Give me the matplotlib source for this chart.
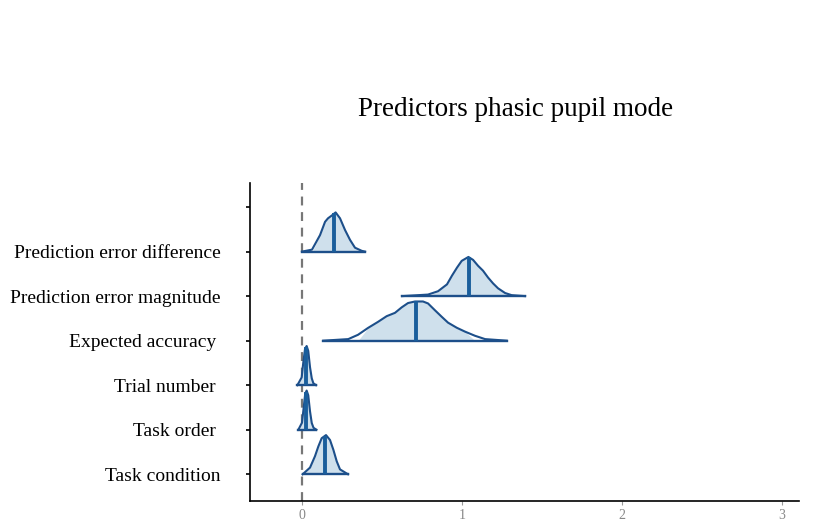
import numpy as np
import matplotlib.pyplot as plt
from matplotlib.ticker import FixedLocator

plt.rcParams['font.family'] = ['Liberation Serif', 'DejaVu Serif']

# predictors, bottom to top (top slot is empty in the original)
labels = ['Task condition', 'Task order ', 'Trial number ', 'Expected accuracy ',
          'Prediction error magnitude', 'Prediction error difference', '']

# posterior density outlines: x values and relative heights
tc_x = [0.004, 0.05, 0.081, 0.102, 0.123, 0.15, 0.175, 0.196, 0.217, 0.2375, 0.2875]
tc_h = [0.0, 0.17, 0.46, 0.71, 0.92, 1.0, 0.875, 0.625, 0.33, 0.125, 0.0]

to_x = [-0.023, 0.0, 0.01, 0.02, 0.029, 0.039, 0.05, 0.061, 0.072, 0.09]
to_h = [0.0, 0.18, 0.55, 0.92, 1.0, 0.88, 0.47, 0.17, 0.05, 0.0]

tn_x = [-0.029, -0.002, 0.008, 0.019, 0.029, 0.039, 0.05, 0.061, 0.071, 0.0875]
tn_h = [0.0, 0.2, 0.58, 0.93, 1.0, 0.875, 0.46, 0.175, 0.05, 0.0]

ea_x = [0.133, 0.289, 0.35, 0.4125, 0.475, 0.529, 0.581, 0.623, 0.6625, 0.706,
        0.756, 0.7875, 0.831, 0.873, 0.9125, 0.967, 1.019, 1.081, 1.144, 1.279]
ea_h = [0.0, 0.04, 0.15, 0.325, 0.48, 0.625, 0.71, 0.85, 0.96, 1.0,
        1.0, 0.95, 0.775, 0.61, 0.46, 0.33, 0.23, 0.125, 0.04, 0.0]

pem_x = [0.625, 0.7875, 0.85, 0.906, 0.9375, 0.969, 0.998, 1.04, 1.069, 1.1,
         1.131, 1.1625, 1.194, 1.225, 1.269, 1.31, 1.394]
pem_h = [0.0, 0.04, 0.125, 0.3, 0.525, 0.73, 0.9, 1.0, 0.925, 0.775,
         0.65, 0.475, 0.325, 0.2, 0.08, 0.025, 0.0]

ped_x = [0.0, 0.0625, 0.1125, 0.144, 0.1625, 0.1875, 0.21, 0.2375, 0.269, 0.30,
         0.331, 0.373, 0.394]
ped_h = [0.0, 0.05, 0.42, 0.76, 0.85, 0.925, 1.0, 0.85, 0.55, 0.30,
         0.10, 0.02, 0.0]

curves_x = [tc_x, to_x, tn_x, ea_x, pem_x, ped_x]
curves_h = [tc_h, to_h, tn_h, ea_h, pem_h, ped_h]
medians = [0.144, 0.025, 0.025, 0.71, 1.044, 0.202]
ci_lo = [0.0, 0.0, -0.01, 0.39, 0.82, 0.07]
ci_hi = [0.26, 0.065, 0.065, 1.02, 1.28, 0.35]

line_col = '#1d4f8a'
med_col = '#1a5e9c'
fill_col = '#cfe0ec'
scale = 0.88

fig = plt.figure(figsize=(8.17, 5.31), dpi=100)
ax = fig.add_axes([0.306, 0.0565, 0.672, 0.5985])

ax.axvline(0, color='#777777', lw=1.6, ls=(0, (4, 3)), zorder=1)

for i in range(len(curves_x)):
    xs = np.array(curves_x[i])
    hs = np.array(curves_h[i]) * scale + i
    inside = (xs >= ci_lo[i]) & (xs <= ci_hi[i])
    ax.fill_between(xs, i, hs, where=inside, interpolate=True,
                    color=fill_col, lw=0, zorder=2 + i * 0.01)
    ax.plot(xs, hs, color=line_col, lw=1.5, zorder=3,
            solid_joinstyle='round')
    ax.plot([xs[0], xs[-1]], [i, i], color=line_col, lw=1.7, zorder=3)
    mh = np.interp(medians[i], xs, hs)
    ax.plot([medians[i], medians[i]], [i, mh], color=med_col, lw=2.8,
            solid_capstyle='butt', zorder=4)

ax.set_xlim(-0.325, 3.106)
ax.set_ylim(-0.6, 6.536)
ax.xaxis.set_major_locator(FixedLocator([0, 1, 2, 3]))
ax.set_yticks(range(len(labels)))
ax.set_yticklabels(labels, fontsize=14, color='black')

for s in ['top', 'right']:
    ax.spines[s].set_visible(False)
ax.spines['left'].set_linewidth(1.2)
ax.spines['bottom'].set_linewidth(1.2)
ax.tick_params(axis='y', length=3, width=1.2, pad=18)
ax.tick_params(axis='x', length=3, width=0.8, colors='#999999', labelsize=10,
               labelcolor='#888888', pad=3)

fig.text(0.631, 0.793, 'Predictors phasic pupil mode', ha='center', va='center',
         fontsize=19.5)

fig.savefig('out.png', dpi=100)
